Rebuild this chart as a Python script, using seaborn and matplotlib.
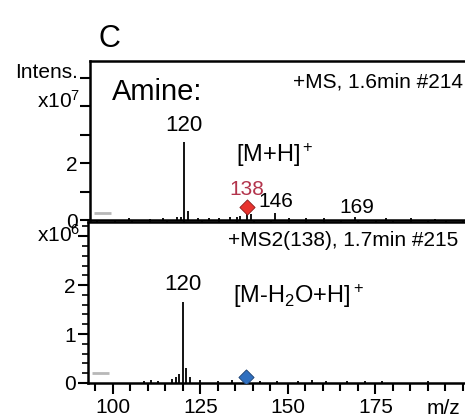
import seaborn as sns
import matplotlib.pyplot as plt
import pandas as pd

# top panel: full MS (intensity in 1e7)
ms_mz = [104, 110, 114, 118, 119, 120, 121, 124, 127, 130, 133, 135, 136, 138, 139, 146, 150, 155, 160, 169, 178, 185, 192]
ms_int = [0.06, 0.05, 0.07, 0.1, 0.12, 2.74, 0.3, 0.07, 0.06, 0.08, 0.1, 0.12, 0.15, 0.45, 0.2, 0.25, 0.08, 0.06, 0.07, 0.1, 0.06, 0.07, 0.05]

# bottom panel: MS2 of 138 (intensity in 1e6)
ms2_mz = [109, 111, 113, 117, 118, 119, 120, 121, 122, 125, 130, 134, 138, 142, 147, 153, 157, 161, 167, 172, 177, 190]
ms2_int = [0.05, 0.06, 0.05, 0.08, 0.12, 0.18, 1.65, 0.3, 0.12, 0.06, 0.05, 0.06, 0.12, 0.05, 0.04, 0.05, 0.06, 0.05, 0.04, 0.05, 0.04, 0.05]

precursor_mz = [138]
ms_precursor_int = [0.45]
ms2_precursor_int = [0.12]

gray_span = [94, 99]
ms_gray_y = 0.25
ms2_gray_y = 0.2

W, H = 465, 420


def fx(x):
    return x / W


def fy(y):
    return 1 - y / H


sns.set_style("ticks")
plt.rcParams['font.family'] = ['Liberation Sans', 'DejaVu Sans']
plt.rcParams['mathtext.fontset'] = 'custom'
plt.rcParams['mathtext.rm'] = 'Liberation Sans'
plt.rcParams['mathtext.it'] = 'Liberation Sans:italic'
for k in ('text.color', 'axes.labelcolor', 'xtick.color', 'ytick.color', 'axes.edgecolor'):
    plt.rcParams[k] = 'black'

fig = plt.figure(figsize=(4.65, 4.2), dpi=100)
ax1 = fig.add_axes([fx(90), fy(220), 1 - fx(90), (220 - 61) / H])
ax2 = fig.add_axes([fx(88), fy(383), 1 - fx(88), (383 - 222) / H])

top = pd.DataFrame({'mz': ms_mz, 'inten': ms_int})
bot = pd.DataFrame({'mz': ms2_mz, 'inten': ms2_int})

ax1.vlines(top['mz'], 0, top['inten'], color='black', lw=1.3)
ax2.vlines(bot['mz'], 0, bot['inten'], color='black', lw=1.3)

sns.scatterplot(x=precursor_mz, y=ms_precursor_int, ax=ax1, marker='D', s=60,
                color='#e8332e', edgecolor='#8a1a1a', linewidth=0.6, zorder=5)
sns.scatterplot(x=precursor_mz, y=ms2_precursor_int, ax=ax2, marker='D', s=60,
                color='#2f6fbf', edgecolor='#1a3f70', linewidth=0.6, zorder=5)

ax1.hlines(ms_gray_y, gray_span[0], gray_span[1], color='#b8b8b8', lw=2)
ax2.hlines(ms2_gray_y, gray_span[0], gray_span[1], color='#b8b8b8', lw=2)

for ax in (ax1, ax2):
    ax.set_xlim(92.9, 200.6)
    ax.spines['right'].set_visible(False)
    for s in ('left', 'top', 'bottom'):
        ax.spines[s].set_linewidth(1.8)
    ax.set_xlabel('')
    ax.set_ylabel('')

ax1.set_ylim(0, 5.58)
ax1.set_yticks([0, 1, 2, 3, 4, 5])
ax1.set_yticklabels(['0', '', '2', '', '', ''])
ax1.set_xticks(list(range(95, 201, 5)))
ax1.set_xticklabels([])
ax1.tick_params(axis='x', direction='out', length=3, width=1.2)
ax1.tick_params(axis='y', direction='out', length=7, width=1.5, labelsize=15, pad=2)

ax2.set_ylim(0, 3.29)
ax2.set_yticks([0, 1, 2, 3])
ax2.set_yticklabels(['0', '1', '2', ''])
ax2.set_yticks([i * 0.2 for i in range(17)], minor=True)
ax2.set_xticks([100, 125, 150, 175])
ax2.set_xticks(list(range(95, 201, 5)), minor=True)
ax2.tick_params(axis='x', which='major', direction='out', length=8, width=1.5, labelsize=15, pad=3)
ax2.tick_params(axis='x', which='minor', direction='out', length=6, width=1.5)
ax2.tick_params(axis='y', which='major', direction='out', length=7, width=1.5, labelsize=15, pad=2)
ax2.tick_params(axis='y', which='minor', direction='out', length=4, width=1.2)

# peak labels
ax1.text(120, 2.95, '120', ha='center', va='bottom', fontsize=16)
ax1.text(138, 0.75, '138', ha='center', va='bottom', fontsize=15, color='#b3344c')
ax1.text(146.3, 0.3, '146', ha='center', va='bottom', fontsize=15)
ax1.text(169.5, 0.12, '169', ha='center', va='bottom', fontsize=15)
ax2.text(120, 1.8, '120', ha='center', va='bottom', fontsize=16)

# annotations
fig.text(fx(98), fy(47), 'C', fontsize=22)
fig.text(fx(112), fy(100), 'Amine:', fontsize=21)
fig.text(fx(463), fy(88), '+MS, 1.6min #214', fontsize=15, ha='right')
fig.text(fx(236), fy(162), '[M+H]$^+$', fontsize=17)
fig.text(fx(458), fy(246), '+MS2(138), 1.7min #215', fontsize=15, ha='right')
fig.text(fx(233), fy(303), '[M-H$_2$O+H]$^+$', fontsize=17)
fig.text(fx(78), fy(78), 'Intens.', fontsize=15, ha='right')
fig.text(fx(80), fy(108), 'x10$^7$', fontsize=15, ha='right')
fig.text(fx(80), fy(242), 'x10$^6$', fontsize=15, ha='right')
fig.text(fx(460), fy(414), 'm/z', fontsize=15, ha='right')

fig.savefig('out.png', dpi=100)
